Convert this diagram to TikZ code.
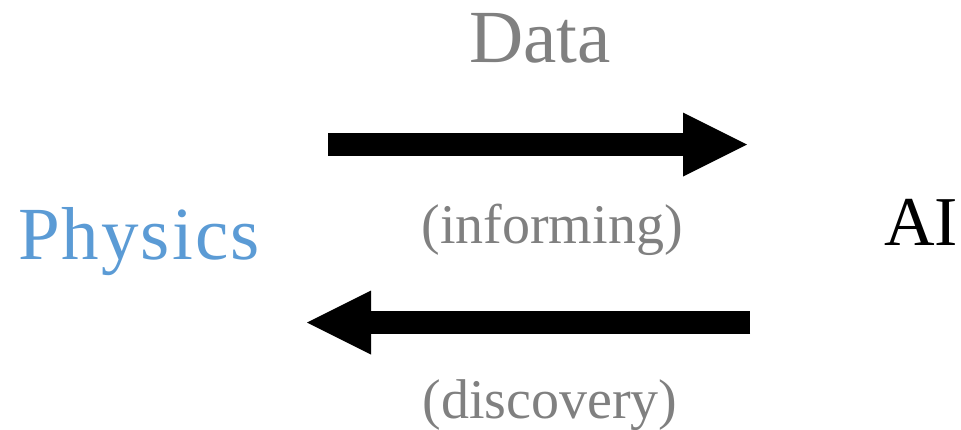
\documentclass[tikz,border=0pt]{standalone}
\usepackage{fontspec}
\setmainfont{Liberation Serif}
\usetikzlibrary{arrows.meta}
\definecolor{txtgray}{HTML}{808080}
\definecolor{physblue}{HTML}{5B9BD5}
\tikzset{
  lbl/.style={inner sep=0pt, outer sep=0pt},
  bigarrow/.style={line width=23pt, black, line cap=butt,
    -{Triangle[length=64pt, width=64pt, line width=0pt]}},
}
\begin{document}
\begin{tikzpicture}[x=1pt,y=1pt]
\useasboundingbox (0,0) rectangle (961,-429);
% text labels
\node[lbl, anchor=base west, text=physblue] (phys) at (18,-259) {\fontsize{75}{80}\selectfont\addfontfeatures{LetterSpace=2.8}Physics};
\node[lbl, anchor=base east, text=black] (ai) at (958,-245) {\fontsize{70}{75}\selectfont AI};
\node[lbl, anchor=base, text=txtgray] (data) at (540,-62) {\fontsize{75}{80}\selectfont Data};
\node[lbl, anchor=base, text=txtgray] (inf) at (552,-243) {\fontsize{56}{60}\selectfont (informing)};
\node[lbl, anchor=base, text=txtgray] (disc) at (550,-418) {\fontsize{56}{60}\selectfont (discovery)};
% arrow end points
\coordinate (a1s) at (328,-144.5);
\coordinate (a1e) at (747,-144.5);
\coordinate (a2s) at (750,-322.5);
\coordinate (a2e) at (307,-322.5);
\draw[bigarrow] (a1s) -- (a1e);
\draw[bigarrow] (a2s) -- (a2e);
\end{tikzpicture}
\end{document}
